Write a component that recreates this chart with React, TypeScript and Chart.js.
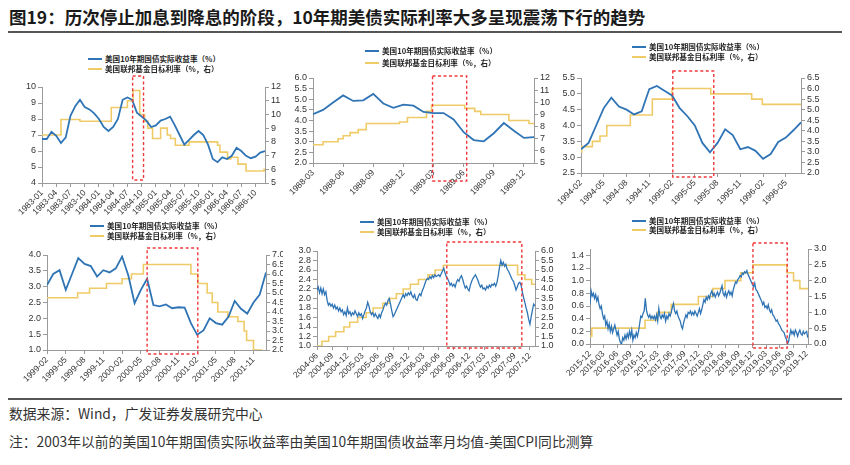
import React, { useEffect, useRef } from 'react';
import { Chart, registerables } from 'chart.js';

Chart.register(...registerables);

// ---------------- text ----------------
const titleText = '图19：历次停止加息到降息的阶段，10年期美债实际利率大多呈现震荡下行的趋势';
const sourceText = '数据来源：Wind，广发证券发展研究中心';
const noteText = '注：2003年以前的美国10年期国债实际收益率由美国10年期国债收益率月均值-美国CPI同比测算';
const legendReal = '美国10年期国债实际收益率（%）';
const legendFed = '美国联邦基金目标利率（%，右）';

// ---------------- panel 1: 1983-01 .. 1986-12 (monthly) ----------------
const p1XLabels = ['1983-01', '1983-04', '1983-07', '1983-10', '1984-01', '1984-04', '1984-07', '1984-10', '1985-01', '1985-04', '1985-07', '1985-10', '1986-01', '1986-04', '1986-07', '1986-10'];
const p1Real = [6.75, 6.75, 7.2, 6.95, 6.5, 6.85, 8.2, 8.8, 9.2, 8.75, 8.6, 8.35, 8.0, 7.5, 7.25, 7.5, 8.0, 9.2, 9.35, 9.2, 8.4, 8.15, 7.9, 7.5, 7.6, 7.9, 8.0, 8.15, 7.6, 7.0, 6.4, 6.7, 7.0, 7.25, 7.0, 6.4, 5.5, 5.3, 5.6, 5.5, 5.7, 6.2, 6.0, 5.7, 5.55, 5.65, 5.9, 6.0];
const p1FedAt = [0, 4.0, 8.0, 14.6, 18.0, 19.2, 20.6, 21.6, 22.3, 23.3, 25.0, 26.4, 27.1, 28.1, 31.0, 37.0, 37.5, 39.1, 39.8, 41.3, 43.0, 46.8];
const p1FedRate = [8.5, 9.625, 9.5, 10.5, 11.0, 11.75, 10.0, 9.5, 9.0, 8.25, 9.0, 8.5, 8.25, 7.75, 8.0, 7.75, 7.25, 6.75, 6.875, 6.375, 5.875, 6.0];
const p1Window = [19.1, 21.4];
const p1LeftTicks = [4, 5, 6, 7, 8, 9, 10];
const p1RightTicks = [5, 6, 7, 8, 9, 10, 11, 12];

// ---------------- panel 2: 1988-03 .. 1990-01 (monthly) ----------------
const p2XLabels = ['1988-03', '1988-06', '1988-09', '1988-12', '1989-03', '1989-06', '1989-09', '1989-12'];
const p2Real = [4.3, 4.5, 4.85, 5.18, 4.92, 4.95, 5.25, 4.8, 4.6, 4.75, 4.7, 4.4, 4.35, 4.35, 4.05, 3.45, 3.08, 3.02, 3.4, 3.88, 3.52, 3.18, 3.22];
const p2FedAt = [0, 1.0, 2.5, 3.0, 3.7, 4.5, 5.3, 8.6, 9.4, 11.3, 11.8, 15.1, 16.1, 16.7, 19.5, 21.5];
const p2FedRate = [6.5, 6.75, 7.0, 7.25, 7.5, 7.75, 8.25, 8.375, 8.75, 9.25, 9.75, 9.5, 9.25, 9.0, 8.5, 8.25];
const p2Window = [11.9, 15.3];
const p2LeftTicks = [2.0, 2.5, 3.0, 3.5, 4.0, 4.5, 5.0, 5.5, 6.0];
const p2RightTicks = [5, 6, 7, 8, 9, 10, 11, 12];

// ---------------- panel 3: 1994-02 .. 1996-07 (monthly) ----------------
const p3XLabels = ['1994-02', '1994-05', '1994-08', '1994-11', '1995-02', '1995-05', '1995-08', '1995-11', '1996-02', '1996-05'];
const p3Real = [3.25, 3.45, 4.0, 4.55, 4.88, 4.6, 4.5, 4.35, 4.45, 5.15, 5.25, 5.1, 4.95, 4.55, 4.3, 4.0, 3.45, 3.15, 3.45, 3.88, 3.7, 3.25, 3.32, 3.2, 2.95, 3.1, 3.48, 3.62, 3.85, 4.1];
const p3FedAt = [0, 0.1, 1.5, 2.5, 3.4, 6.5, 9.4, 12.0, 17.1, 22.5, 23.9];
const p3FedRate = [3.0, 3.25, 3.5, 3.75, 4.25, 4.75, 5.5, 6.0, 5.75, 5.5, 5.25];
const p3Window = [12.1, 17.5];
const p3LeftTicks = [2.5, 3.0, 3.5, 4.0, 4.5, 5.0, 5.5];
const p3RightTicks = [2.0, 2.5, 3.0, 3.5, 4.0, 4.5, 5.0, 5.5, 6.0, 6.5];

// ---------------- panel 4: 1999-02 .. 2002-01 (monthly) ----------------
const p4XLabels = ['1999-02', '1999-05', '1999-08', '1999-11', '2000-02', '2000-05', '2000-08', '2000-11', '2001-02', '2001-05', '2001-08', '2001-11'];
const p4Real = [3.05, 3.4, 3.52, 2.9, 3.4, 3.9, 3.72, 3.65, 3.32, 3.52, 3.45, 3.58, 3.95, 3.35, 2.48, 2.9, 3.25, 2.42, 2.38, 2.44, 2.32, 2.35, 2.34, 1.85, 1.48, 1.62, 2.0, 1.85, 1.8, 2.05, 2.55, 2.3, 2.15, 2.5, 2.75, 3.45];
const p4FedAt = [0, 4.9, 6.8, 9.5, 12.0, 13.5, 15.4, 23.0, 24.1, 25.6, 26.4, 27.3, 28.9, 30.5, 31.5, 31.9, 33.0, 34.3];
const p4FedRate = [4.75, 5.0, 5.25, 5.5, 5.75, 6.0, 6.5, 6.0, 5.5, 5.0, 4.5, 4.0, 3.75, 3.5, 3.0, 2.5, 2.0, 1.75];
const p4Window = [16.0, 24.1];
const p4LeftTicks = [1.0, 1.5, 2.0, 2.5, 3.0, 3.5, 4.0];
const p4RightTicks = [2.0, 2.5, 3.0, 3.5, 4.0, 4.5, 5.0, 5.5, 6.0, 6.5, 7.0];

// ---------------- panel 5: 2004-06 .. 2008-01 (weekly) ----------------
const p5XLabels = ['2004-06', '2004-09', '2004-12', '2005-03', '2005-06', '2005-09', '2005-12', '2006-03', '2006-06', '2006-09', '2006-12', '2007-03', '2007-06', '2007-09', '2007-12'];
const p5Real = [
  2.18, 2.24, 2.12, 2.22, 2.10, 2.20, 2.08, 2.14, 1.96, 1.86, 1.90, 1.84,
  1.88, 1.80, 1.86, 1.78, 1.82, 1.74, 1.80, 1.72, 1.76, 1.66, 1.72, 1.64,
  1.80, 1.68, 1.72, 1.64, 1.70, 1.66, 1.74, 1.68, 1.62, 1.70, 1.64, 1.68,
  1.58, 1.66, 1.74, 1.80, 1.92, 1.84, 1.72, 1.66, 1.70, 1.62, 1.68, 1.62,
  1.58, 1.66, 1.60, 1.70, 1.76, 1.84, 1.90, 1.86, 1.96, 2.00, 1.88, 1.74,
  1.62, 1.66, 1.72, 1.78, 1.84, 1.90, 1.96, 2.02, 2.08, 2.02, 2.10, 2.06,
  2.12, 2.08, 2.14, 2.06, 2.02, 2.08, 1.98, 1.96, 2.04, 2.10, 2.06, 2.16,
  2.22, 2.30, 2.38, 2.42, 2.40, 2.46, 2.42, 2.48, 2.44, 2.50, 2.46, 2.48,
  2.50, 2.46, 2.52, 2.58, 2.64, 2.54, 2.46, 2.42, 2.36, 2.28, 2.32, 2.26,
  2.30, 2.24, 2.34, 2.40, 2.36, 2.44, 2.48, 2.40, 2.30, 2.22, 2.26, 2.20,
  2.16, 2.28, 2.36, 2.42, 2.46, 2.50, 2.44, 2.38, 2.30, 2.24, 2.28, 2.20,
  2.22, 2.18, 2.26, 2.22, 2.28, 2.24, 2.30, 2.28, 2.32, 2.26, 2.34, 2.48,
  2.66, 2.80, 2.70, 2.76, 2.68, 2.72, 2.62, 2.58, 2.52, 2.46, 2.40, 2.36,
  2.28, 2.18, 2.24, 2.32, 2.34, 2.28, 2.14, 2.02, 1.92, 1.80, 1.70, 1.56,
  1.46, 1.62, 1.76, 1.88, 1.84,
];
const p5FedAt = [0, 0.97, 2.3, 3.67, 5.3, 6.45, 8.03, 9.7, 11.07, 12.97, 14.27, 15.65, 17.0, 18.4, 20.0, 21.9, 23.3, 24.93, 39.57, 41.0, 42.35];
const p5FedRate = [1.0, 1.25, 1.5, 1.75, 2.0, 2.25, 2.5, 2.75, 3.0, 3.25, 3.5, 3.75, 4.0, 4.25, 4.5, 4.75, 5.0, 5.25, 4.75, 4.5, 4.25];
const p5Window = [25.6, 40.4];
const p5LeftTicks = [1.0, 1.2, 1.4, 1.6, 1.8, 2.0, 2.2, 2.4, 2.6, 2.8, 3.0];
const p5RightTicks = [1.0, 1.5, 2.0, 2.5, 3.0, 3.5, 4.0, 4.5, 5.0, 5.5, 6.0];

// ---------------- panel 6: 2015-12 .. 2019-12 (weekly) ----------------
const p6XLabels = ['2015-12', '2016-03', '2016-06', '2016-09', '2016-12', '2017-03', '2017-06', '2017-09', '2017-12', '2018-03', '2018-06', '2018-09', '2018-12', '2019-03', '2019-06', '2019-09', '2019-12'];
const p6Real = [
  0.62, 0.84, 0.76, 0.80, 0.72, 0.78, 0.68, 0.74, 0.62, 0.56, 0.60, 0.48,
  0.40, 0.44, 0.30, 0.36, 0.24, 0.32, 0.20, 0.28, 0.18, 0.24, 0.30, 0.22,
  0.14, 0.20, 0.08, 0.02, 0.00, 0.10, 0.06, 0.14, 0.08, 0.16, 0.10, 0.20,
  0.12, 0.22, 0.06, 0.14, 0.10, 0.18, 0.12, 0.20, 0.32, 0.44, 0.42, 0.48,
  0.52, 0.72, 0.54, 0.46, 0.42, 0.46, 0.40, 0.44, 0.40, 0.44, 0.38, 0.46,
  0.36, 0.56, 0.44, 0.40, 0.46, 0.42, 0.48, 0.36, 0.44, 0.40, 0.48, 0.44,
  0.50, 0.58, 0.64, 0.52, 0.48, 0.52, 0.44, 0.40, 0.36, 0.28, 0.24, 0.34,
  0.40, 0.46, 0.42, 0.50, 0.48, 0.52, 0.46, 0.50, 0.46, 0.52, 0.48, 0.44,
  0.50, 0.56, 0.48, 0.54, 0.62, 0.70, 0.66, 0.74, 0.70, 0.76, 0.72, 0.80,
  0.84, 0.76, 0.80, 0.74, 0.78, 0.82, 0.76, 0.80, 0.86, 0.92, 0.80, 0.76,
  0.82, 0.74, 0.80, 0.84, 0.78, 0.82, 0.76, 0.86, 0.92, 0.98, 0.96, 1.02,
  1.04, 1.08, 1.06, 1.12, 1.10, 1.14, 1.12, 1.16, 1.10, 1.06, 1.02, 0.98,
  0.94, 0.90, 0.96, 0.86, 0.84, 0.80, 0.76, 0.72, 0.68, 0.62, 0.66, 0.58,
  0.60, 0.56, 0.62, 0.54, 0.50, 0.54, 0.46, 0.44, 0.40, 0.36, 0.38, 0.32,
  0.30, 0.26, 0.22, 0.20, 0.18, 0.12, 0.08, 0.00, 0.04, 0.14, 0.22, 0.16,
  0.20, 0.14, 0.22, 0.18, 0.12, 0.18, 0.22, 0.16, 0.14, 0.20, 0.16, 0.18,
  0.20, 0.10,
];
const p6FedAt = [0, 0.4, 12.2, 14.9, 18.0, 24.0, 27.2, 29.9, 33.4, 36.1, 43.6, 45.1, 46.5];
const p6FedRate = [0.25, 0.5, 0.75, 1.0, 1.25, 1.5, 1.75, 2.0, 2.25, 2.5, 2.25, 2.0, 1.75];
const p6Window = [36.1, 43.7];
const p6LeftTicks = [0.0, 0.2, 0.4, 0.6, 0.8, 1.0, 1.2, 1.4];
const p6RightTicks = [0.0, 0.5, 1.0, 1.5, 2.0, 2.5, 3.0];

// ---------------- styles ----------------
const BLUE = '#2F74B5';
const GOLD = '#EFCB68';
const RED = '#F0383C';
const AXIS = '#9A9A9A';
const TICK = '#333333';
const CJK = '"Noto Sans CJK SC", "Noto Sans", sans-serif';
const LATIN = '"Liberation Sans", Arial, sans-serif';

interface PanelSpec {
  xLabels: string[];
  real: number[];
  realStep: number;
  fedAt: number[];
  fedRate: number[];
  window: number[];
  leftTicks: number[];
  rightTicks: number[];
  leftMax: number;
  leftDec: number;
  rightDec: number;
  xMax: number;
  box: number[]; // x0, y0, w, h (page)
  plot: number[]; // left, top, right, bottom (page)
  winPad: number[]; // rect top / bottom offsets from plot area
  legend: number[]; // lineX, row1Y, row2Y
  blueWidth: number;
}

const panels: PanelSpec[] = [
  {
    xLabels: p1XLabels, real: p1Real, realStep: 1, fedAt: p1FedAt, fedRate: p1FedRate, window: p1Window,
    leftTicks: p1LeftTicks, rightTicks: p1RightTicks, leftMax: 10, leftDec: 0, rightDec: 0, xMax: 47,
    box: [0, 70, 283, 155], plot: [42, 87, 265, 183], winPad: [-11, -3], legend: [88, 59, 69], blueWidth: 1.8,
  },
  {
    xLabels: p2XLabels, real: p2Real, realStep: 1, fedAt: p2FedAt, fedRate: p2FedRate, window: p2Window,
    leftTicks: p2LeftTicks, rightTicks: p2RightTicks, leftMax: 6, leftDec: 1, rightDec: 0, xMax: 22,
    box: [283, 66, 273, 144], plot: [313, 78, 534, 163], winPad: [-2, 18], legend: [365, 51, 63], blueWidth: 1.8,
  },
  {
    xLabels: p3XLabels, real: p3Real, realStep: 1, fedAt: p3FedAt, fedRate: p3FedRate, window: p3Window,
    leftTicks: p3LeftTicks, rightTicks: p3RightTicks, leftMax: 5.5, leftDec: 1, rightDec: 1, xMax: 29,
    box: [556, 62, 294, 153], plot: [581, 78, 801, 173], winPad: [-7, 4], legend: [632, 47, 57], blueWidth: 1.8,
  },
  {
    xLabels: p4XLabels, real: p4Real, realStep: 1, fedAt: p4FedAt, fedRate: p4FedRate, window: p4Window,
    leftTicks: p4LeftTicks, rightTicks: p4RightTicks, leftMax: 4, leftDec: 1, rightDec: 1, xMax: 35,
    box: [0, 240, 283, 155], plot: [47, 255, 266, 350], winPad: [-7, 4], legend: [90, 226, 236], blueWidth: 1.8,
  },
  {
    xLabels: p5XLabels, real: p5Real, realStep: 0.25, fedAt: p5FedAt, fedRate: p5FedRate, window: p5Window,
    leftTicks: p5LeftTicks, rightTicks: p5RightTicks, leftMax: 3, leftDec: 1, rightDec: 1, xMax: 43,
    box: [283, 236, 273, 154], plot: [317, 251, 535, 346], winPad: [-9, 2], legend: [360, 222, 232], blueWidth: 1.3,
  },
  {
    xLabels: p6XLabels, real: p6Real, realStep: 0.25, fedAt: p6FedAt, fedRate: p6FedRate, window: p6Window,
    leftTicks: p6LeftTicks, rightTicks: p6RightTicks, leftMax: 1.5, leftDec: 1, rightDec: 1, xMax: 48.3,
    box: [556, 236, 294, 154], plot: [590, 249, 808, 344], winPad: [-6, 4], legend: [632, 221, 230], blueWidth: 1.3,
  },
];

function buildConfig(s: PanelSpec): any {
  const [x0, y0, w, h] = s.box;
  const [pl, pt, pr, pb] = s.plot;
  const realPts = s.real.map((v, i) => ({ x: i * s.realStep, y: v }));
  const fedPts = s.fedAt.map((x, i) => ({ x, y: s.fedRate[i] }));
  fedPts.push({ x: s.xMax, y: s.fedRate[s.fedRate.length - 1] });

  const yFont = { family: LATIN, size: 9 };
  const xFont = { family: LATIN, size: 8.5 };
  const gridOpts = { display: true, drawOnChartArea: false, drawTicks: true, tickLength: 4, color: AXIS, lineWidth: 1 };
  const borderOpts = { display: true, color: AXIS, width: 1 };

  const windowPlugin = {
    id: 'window' + x0 + '_' + y0,
    afterDatasetsDraw(chart: any) {
      const ctx = chart.ctx;
      const xs = chart.scales.x;
      const area = chart.chartArea;
      const a = xs.getPixelForValue(s.window[0]);
      const b = xs.getPixelForValue(s.window[1]);
      const top = area.top + s.winPad[0];
      const bottom = area.bottom + s.winPad[1];
      ctx.save();
      ctx.strokeStyle = RED;
      ctx.lineWidth = 1.4;
      ctx.setLineDash([3, 2.5]);
      ctx.strokeRect(a, top, b - a, bottom - top);
      ctx.restore();
    },
  };

  return {
    type: 'line',
    data: {
      datasets: [
        { label: legendReal, data: realPts, borderColor: BLUE, backgroundColor: BLUE, borderWidth: s.blueWidth, pointRadius: 0, tension: 0, yAxisID: 'y' },
        { label: legendFed, data: fedPts, borderColor: GOLD, backgroundColor: GOLD, borderWidth: 1.6, pointRadius: 0, stepped: 'before', yAxisID: 'y1' },
      ],
    },
    options: {
      animation: false,
      responsive: false,
      devicePixelRatio: 1,
      events: [],
      layout: { padding: { top: pt - y0, left: 0, right: 0, bottom: 0 } },
      plugins: { legend: { display: false }, tooltip: { enabled: false }, title: { display: false } },
      scales: {
        x: {
          type: 'linear',
          position: 'bottom',
          min: 0,
          max: s.xMax,
          grid: gridOpts,
          border: borderOpts,
          ticks: {
            autoSkip: false,
            minRotation: 45,
            maxRotation: 45,
            padding: 1,
            color: TICK,
            font: xFont,
            callback: (v: number) => s.xLabels[Math.round(v / 3)] ?? '',
          },
          afterBuildTicks: (sc: any) => {
            sc.ticks = s.xLabels.map((_, i) => ({ value: i * 3 }));
          },
          afterFit: (sc: any) => {
            sc.height = y0 + h - pb;
            sc.paddingLeft = 0;
            sc.paddingRight = 0;
          },
        },
        y: {
          type: 'linear',
          position: 'left',
          min: s.leftTicks[0],
          max: s.leftMax,
          grid: gridOpts,
          border: borderOpts,
          ticks: { autoSkip: false, padding: 2, color: TICK, font: yFont, callback: (v: number) => Number(v).toFixed(s.leftDec) },
          afterBuildTicks: (sc: any) => {
            sc.ticks = s.leftTicks.map((v) => ({ value: v }));
          },
          afterFit: (sc: any) => {
            sc.width = pl - x0;
            sc.paddingTop = 0;
            sc.paddingBottom = 0;
          },
        },
        y1: {
          type: 'linear',
          position: 'right',
          min: s.rightTicks[0],
          max: s.rightTicks[s.rightTicks.length - 1],
          grid: gridOpts,
          border: borderOpts,
          ticks: { autoSkip: false, padding: 2, color: TICK, font: yFont, callback: (v: number) => Number(v).toFixed(s.rightDec) },
          afterBuildTicks: (sc: any) => {
            sc.ticks = s.rightTicks.map((v) => ({ value: v }));
          },
          afterFit: (sc: any) => {
            sc.width = x0 + w - pr;
            sc.paddingTop = 0;
            sc.paddingBottom = 0;
          },
        },
      },
    },
    plugins: [windowPlugin],
  };
}

function PanelChart({ spec }: { spec: PanelSpec }) {
  const ref = useRef<HTMLCanvasElement>(null);
  useEffect(() => {
    if (!ref.current) return;
    const chart = new Chart(ref.current, buildConfig(spec));
    return () => chart.destroy();
  }, [spec]);
  const [x0, y0, w, h] = spec.box;
  return (
    <canvas
      ref={ref}
      width={w}
      height={h}
      style={{ position: 'absolute', left: x0, top: y0, width: w, height: h }}
    />
  );
}

function LegendRow({ x, y, color, text }: { x: number; y: number; color: string; text: string }) {
  return (
    <div style={{ position: 'absolute', left: x, top: y - 5, height: 10, display: 'flex', alignItems: 'center', whiteSpace: 'nowrap' }}>
      <span style={{ display: 'inline-block', width: 14, height: 2, background: color, marginRight: 3 }} />
      <span style={{ fontFamily: CJK, fontSize: 7.6, fontWeight: 700, lineHeight: '10px', color: '#262626' }}>{text}</span>
    </div>
  );
}

export default function App() {
  return (
    <div
      style={{
        position: 'absolute',
        left: 0,
        top: 0,
        width: 850,
        height: 465,
        background: '#ffffff',
        overflow: 'hidden',
        fontFamily: CJK,
      }}
    >
      <div style={{ position: 'absolute', left: 9, top: 5, fontSize: 17.5, lineHeight: '24px', fontWeight: 700, color: '#1a1a1a', whiteSpace: 'nowrap' }}>
        {titleText}
      </div>
      <div style={{ position: 'absolute', left: 8, top: 31, width: 834, height: 2, background: '#555555' }} />

      {panels.map((p, i) => (
        <PanelChart key={'c' + i} spec={p} />
      ))}
      {panels.map((p, i) => (
        <React.Fragment key={'l' + i}>
          <LegendRow x={p.legend[0]} y={p.legend[1]} color={BLUE} text={legendReal} />
          <LegendRow x={p.legend[0]} y={p.legend[2]} color={GOLD} text={legendFed} />
        </React.Fragment>
      ))}

      <div style={{ position: 'absolute', left: 8, top: 398, width: 834, height: 2, background: '#555555' }} />
      <div style={{ position: 'absolute', left: 9, top: 404, fontSize: 13.8, lineHeight: '18px', color: '#333333', whiteSpace: 'nowrap' }}>
        {sourceText}
      </div>
      <div style={{ position: 'absolute', left: 9, top: 432, fontSize: 13.8, lineHeight: '18px', color: '#333333', whiteSpace: 'nowrap' }}>
        {noteText}
      </div>
    </div>
  );
}
